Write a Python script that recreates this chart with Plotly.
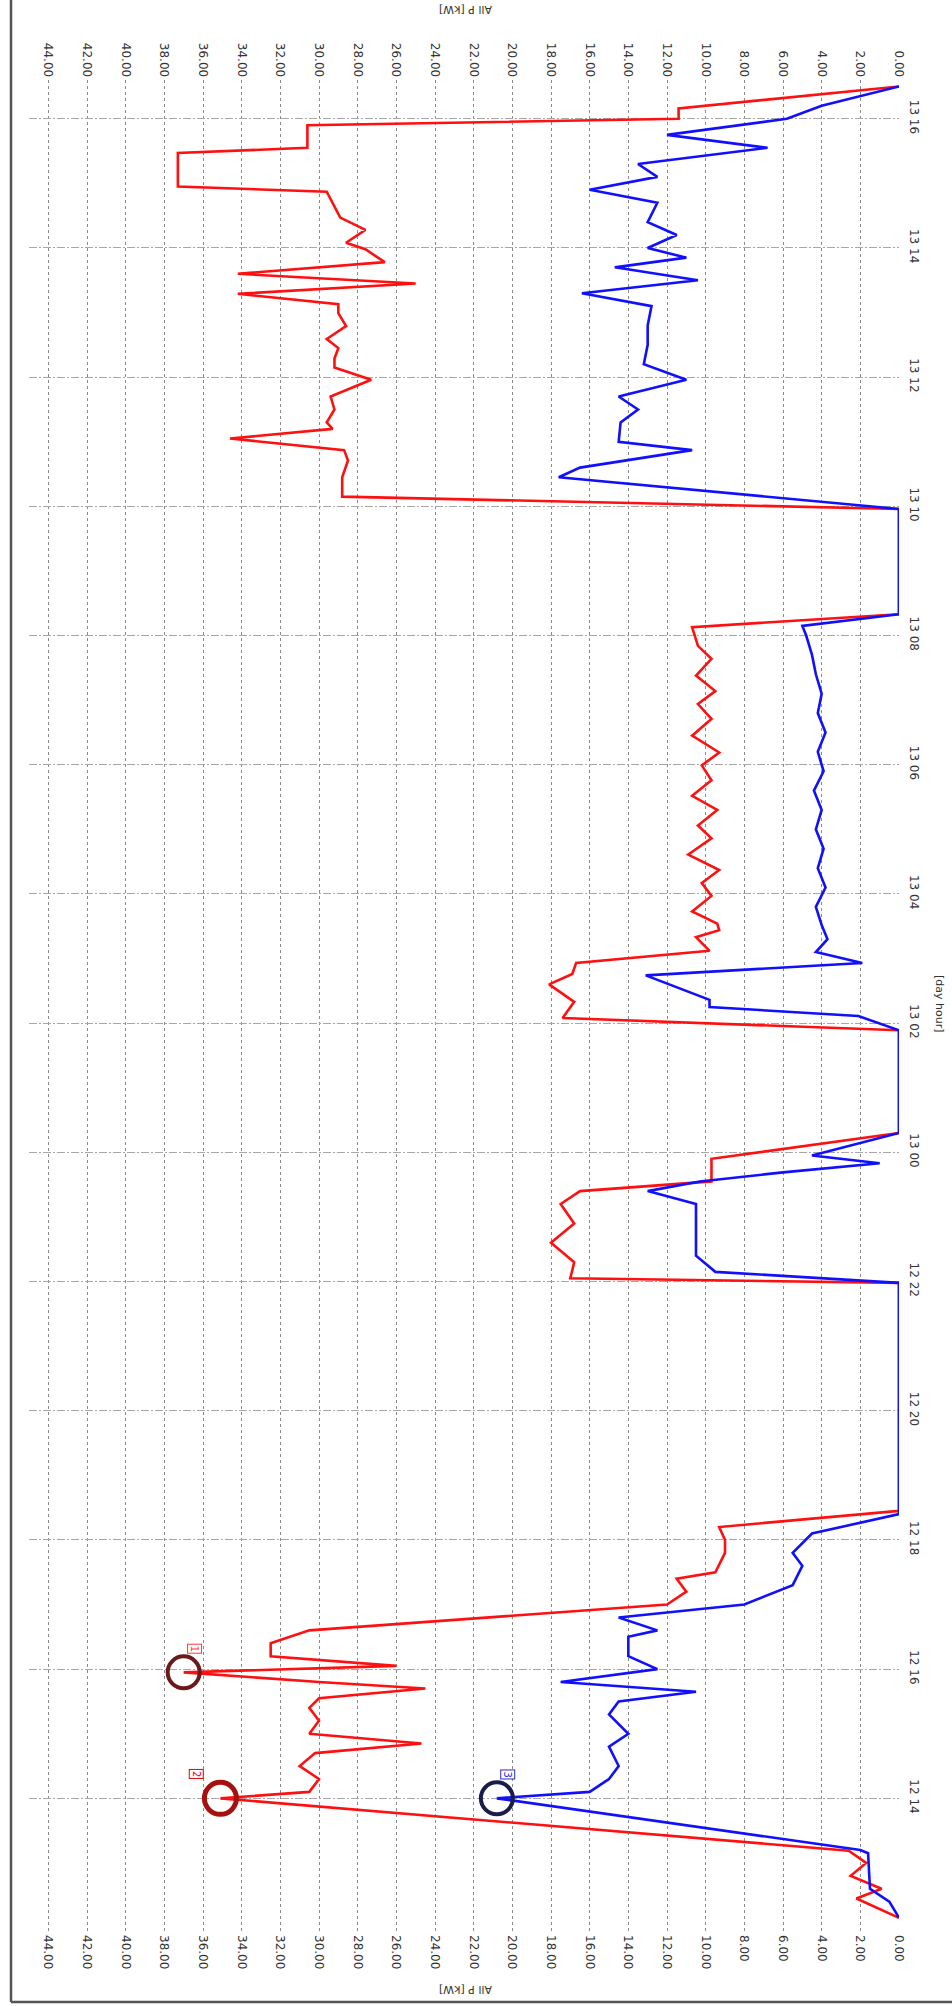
import plotly.graph_objects as go

# Time in hours counted from day 12, 00:00; power in kW
red_t = [12.15, 12.45, 12.6, 12.8, 13.0, 13.19, 14.0, 14.1, 14.3, 14.5, 14.7, 14.85, 15.0, 15.2,
         15.4, 15.55, 15.7, 15.8, 15.95, 16.05, 16.2, 16.4, 16.6, 17.0, 17.2, 17.4, 17.5, 17.8,
         18.0, 18.2, 18.45,
         21.98, 22.05, 22.3, 22.6, 22.9, 23.2, 23.4, 23.55, 23.9, 24.3,
         25.89, 26.08, 26.33, 26.6, 26.76, 26.93, 27.12, 27.33, 27.44, 27.54, 27.73, 27.97, 28.17,
         28.37, 28.61, 28.86, 29.06, 29.3, 29.52, 29.76, 29.99, 30.19, 30.45, 30.71, 30.94, 31.14,
         31.38, 31.64, 31.84, 32.13, 32.33,
         33.96, 34.15, 34.45, 34.71, 34.87, 35.05, 35.2, 35.3, 35.5, 35.7, 35.96, 36.15, 36.29,
         36.45, 36.59, 36.79, 36.99, 37.13, 37.29, 37.45, 37.6, 37.78, 37.98, 38.08, 38.28, 38.47,
         38.87, 38.95, 39.47, 39.55, 39.9, 40.0, 40.16, 40.5]
red_kw = [0, 2.2, 0.9, 2.5, 1.7, 2.6, 35.1, 30.5, 30, 31, 30.2, 24.7, 30.5, 30,
          30.5, 30, 24.5, 30, 37.0, 26, 32.5, 32.5, 30.5, 12, 11, 11.5, 9.5, 9,
          9, 9.3, 0,
          0, 17, 16.8, 18, 16.8, 17.5, 16.5, 9.7, 9.7, 0,
          0, 17.4, 16.8, 18.1, 16.9, 16.7, 9.8, 10.5, 9.3, 9.4, 10.7, 9.7, 10.2,
          9.3, 10.9, 9.7, 10.4, 9.4, 10.7, 9.7, 10.2, 9.3, 10.7, 9.7, 10.4, 9.5,
          10.5, 9.7, 10.4, 10.7, 0,
          0, 28.8, 28.8, 28.5, 28.7, 34.6, 29.3, 29.6, 29.2, 29.4, 27.3, 29.2, 29.2,
          29.0, 29.6, 28.6, 29.0, 29.0, 34.2, 25.0, 34.2, 26.6, 27.6, 28.6, 27.6, 28.9,
          29.6, 37.3, 37.3, 30.6, 30.6, 11.4, 11.4, 0]

blue_t = [12.15, 12.4, 12.6, 13.15, 13.2, 14.0, 14.1, 14.3, 14.5, 14.8, 15.0, 15.3, 15.5,
          15.65, 15.8, 16.0, 16.2, 16.5, 16.6, 16.8, 17.0, 17.3, 17.6, 17.8, 18.1, 18.4,
          21.98, 22.15, 22.4, 23.2, 23.4, 23.55, 23.69, 23.83, 23.95, 24.3,
          25.89, 26.11, 26.25, 26.36, 26.74, 26.93, 27.1, 27.3, 27.52, 27.8, 28.1, 28.4, 28.7,
          29.0, 29.3, 29.6, 29.9, 30.2, 30.5, 30.8, 31.1, 31.4, 31.7, 32.0, 32.15, 32.33,
          33.96, 34.45, 34.6, 34.87, 35.0, 35.3, 35.5, 35.7, 35.96, 36.2, 36.5, 36.8, 37.1,
          37.3, 37.5, 37.7, 37.85, 38.0, 38.2, 38.4, 38.7, 38.9, 39.1, 39.3, 39.55, 39.75,
          40.0, 40.2, 40.5]
blue_kw = [0, 0.5, 1.5, 1.6, 2, 20.8, 16, 15, 14.5, 15, 14, 15, 14.5,
           10.5, 17.5, 12.5, 14, 14, 12.5, 14.5, 8, 5.5, 5, 5.5, 4.5, 0,
           0, 9.5, 10.5, 10.5, 13, 10.3, 6, 1.0, 4.5, 0,
           0, 2.1, 9.8, 9.8, 13.1, 1.9, 4.3, 3.7, 4.0, 4.3, 3.8, 4.2, 3.9,
           4.3, 4.0, 4.4, 3.9, 4.2, 3.8, 4.2, 4.0, 4.3, 4.5, 4.8, 5.0, 0,
           0, 17.6, 16.5, 10.7, 14.5, 14.4, 13.5, 14.5, 11.0, 13.2, 13.0, 13.0, 12.8,
           16.4, 10.4, 14.7, 11.0, 13.0, 11.5, 13.0, 12.5, 16.0, 12.5, 13.5, 6.8, 12.0,
           5.8, 4.0, 0]

# Numbered markers placed on the traces
mark_t = [15.95, 14.0, 14.0]
mark_kw = [37.0, 35.1, 20.8]
mark_num = ["1", "2", "3"]
mark_col = ["#6a1a1a", "#a81010", "#1c1c4c"]
mark_w = [4, 5, 4]
box_col = ["#ff3b3b", "#e00000", "#2a2ad0"]
box_dx = [11, -24, 11]

power_ticks = [0, 2, 4, 6, 8, 10, 12, 14, 16, 18, 20, 22, 24, 26, 28, 30, 32, 34, 36, 38, 40, 42, 44]
time_ticks = [14, 16, 18, 20, 22, 24, 26, 28, 30, 32, 34, 36, 38, 40]
time_labels = ["12 14", "12 16", "12 18", "12 20", "12 22", "13 00", "13 02", "13 04",
               "13 06", "13 08", "13 10", "13 12", "13 14", "13 16"]

FONT = "DejaVu Sans"

fig = go.Figure()
fig.add_trace(go.Scatter(x=red_kw, y=red_t, mode="lines",
                         line=dict(color="#ff1010", width=2.6), showlegend=False))
fig.add_trace(go.Scatter(x=blue_kw, y=blue_t, mode="lines",
                         line=dict(color="#1010ff", width=2.6), showlegend=False))
for kw, t, c, w in zip(mark_kw, mark_t, mark_col, mark_w):
    fig.add_trace(go.Scatter(x=[kw], y=[t], mode="markers",
                             marker=dict(symbol="circle-open", size=32,
                                         line=dict(width=w, color=c), color=c),
                             showlegend=False))
# companion trace so the mirrored top axis is drawn
fig.add_trace(go.Scatter(x=[0], y=[14], xaxis="x2", mode="markers",
                         marker=dict(opacity=0), hoverinfo="skip", showlegend=False))

for kw, t, num, c, dx in zip(mark_kw, mark_t, mark_num, box_col, box_dx):
    fig.add_annotation(x=kw, y=t, xref="x", yref="y", text=num, showarrow=False,
                       xanchor="center", yanchor="middle", xshift=dx, yshift=24,
                       textangle=90, font=dict(family=FONT, size=10, color=c),
                       bordercolor=c, borderwidth=1, borderpad=1, bgcolor="white")

axis_font = dict(family=FONT, size=12, color="#333333")
xcommon = dict(range=[45, 0], tickmode="array", tickvals=power_ticks, tickformat=".2f",
               tickangle=90, tickfont=axis_font, zeroline=False, showline=False, ticks="")
fig.update_layout(
    width=952, height=2006,
    margin=dict(l=29, r=53, t=80, b=72),
    paper_bgcolor="white", plot_bgcolor="white",
    xaxis=dict(**xcommon, side="bottom", showgrid=True, gridcolor="#8a8a8a",
               griddash="dot", gridwidth=1.3),
    xaxis2=dict(**xcommon, side="top", overlaying="x", matches="x", showgrid=False),
    yaxis=dict(range=[11.9, 40.6], side="right", tickmode="array", tickvals=time_ticks,
               ticktext=time_labels, tickangle=90, tickfont=axis_font, showgrid=True,
               gridcolor="#a8a8a8", griddash="8px,2px,2px,2px", gridwidth=1.3,
               zeroline=False, showline=False, ticks="", ticklabelstandoff=8),
)

# captions placed in pixel terms converted to paper fractions
pw = 952 - 29 - 53
ph = 2006 - 80 - 72


def px(xp):
    return (xp - 29) / pw


def py(yp):
    return (2006 - 72 - yp) / ph


title_font = dict(family=FONT, size=11, color="#333333")
fig.add_annotation(text="All P [kW]", x=px(466), y=py(10), xref="paper", yref="paper",
                   xanchor="center", yanchor="middle",
                   showarrow=False, textangle=180, font=title_font)
fig.add_annotation(text="All P [kW]", x=px(466), y=py(1990), xref="paper", yref="paper",
                   xanchor="center", yanchor="middle",
                   showarrow=False, textangle=180, font=title_font)
fig.add_annotation(text="[day hour]", x=px(939), y=py(1004), xref="paper", yref="paper",
                   xanchor="center", yanchor="middle",
                   showarrow=False, textangle=90, font=title_font)

# window frame on the left and bottom edges
fig.add_shape(type="line", xref="paper", yref="paper", x0=px(11), x1=px(11), y0=py(0), y1=py(2002),
              line=dict(color="#555555", width=2.5))
fig.add_shape(type="line", xref="paper", yref="paper", x0=px(11), x1=px(952), y0=py(2002), y1=py(2002),
              line=dict(color="#555555", width=2.5))

fig.write_html("out.html")
